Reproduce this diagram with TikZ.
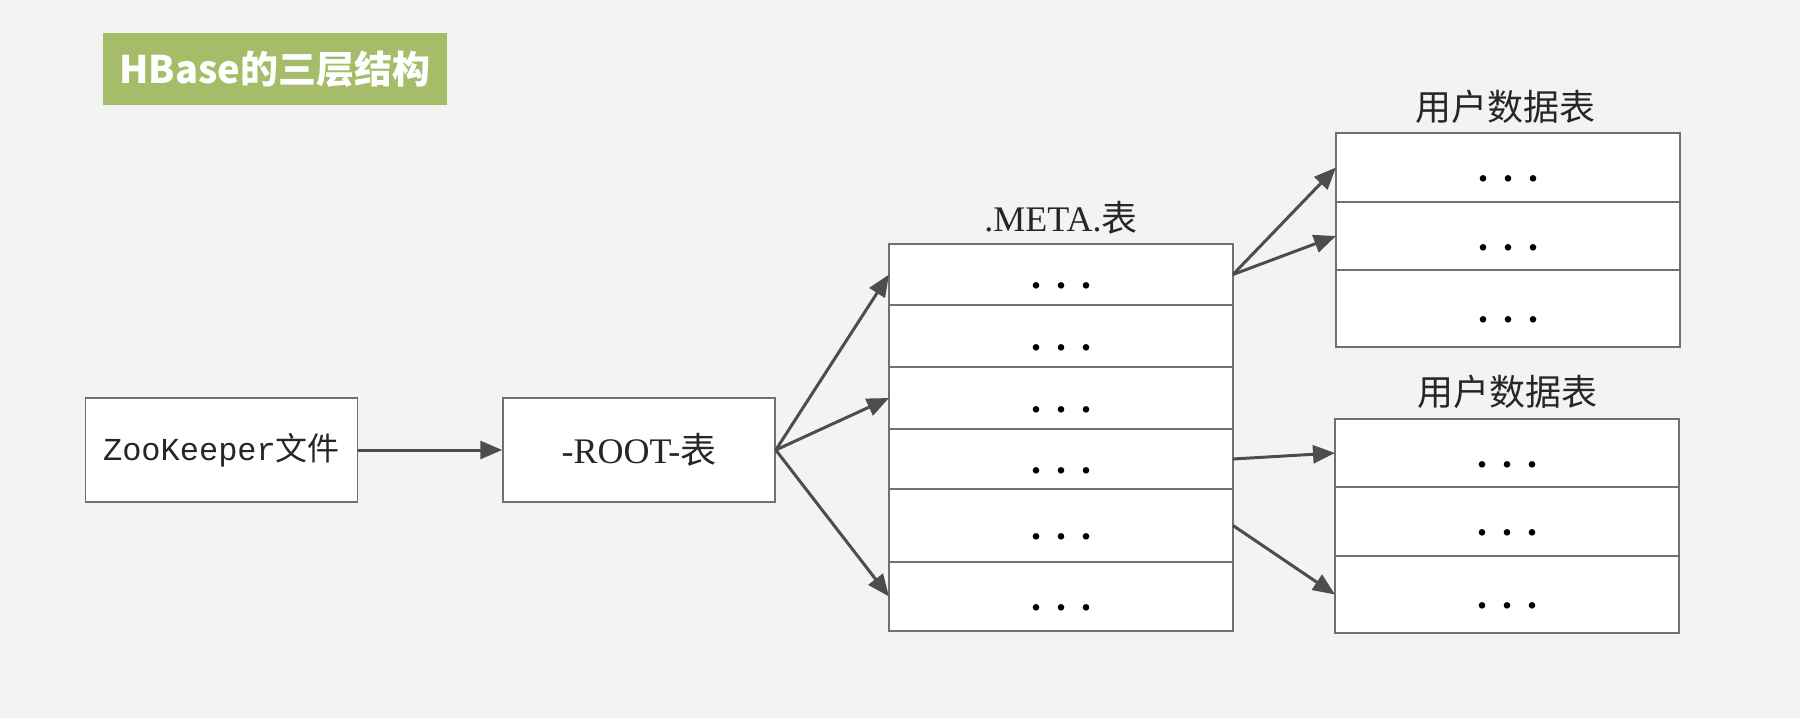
\documentclass[tikz,border=0pt]{standalone}
\usepackage{fontspec}
\setmainfont{Liberation Serif}
\newfontfamily\cjk{Noto Sans CJK SC}
\newfontfamily\zkmono{Liberation Mono}
\definecolor{bggray}{RGB}{243,243,243}
\definecolor{titlegreen}{RGB}{165,189,104}
\definecolor{edgegray}{RGB}{112,112,112}
\definecolor{arrgray}{RGB}{77,77,77}
\usetikzlibrary{arrows.meta,positioning}
\newcommand{\rowdots}{\textbf{.}\hspace{7.5pt}\textbf{.}\hspace{7.5pt}\textbf{.}}

\begin{document}
\begin{tikzpicture}[x=0.5pt, y=-0.5pt,
        titlebox/.style={rectangle, fill=titlegreen, text=white, inner sep=0pt,
                         minimum width=172pt, minimum height=36pt,
                         font=\cjk\bfseries\fontsize{19}{19}\selectfont},
        plainbox/.style={rectangle, draw=edgegray, line width=0.75pt, fill=white,
                         minimum width=136pt, minimum height=52pt, inner sep=0pt,
                         text=black!85},
        tblrow/.style={rectangle, draw=edgegray, line width=0.75pt, fill=white,
                       minimum width=172pt, inner sep=0pt, outer sep=0pt,
                       font=\fontsize{20}{20}\selectfont, text height=14pt, text depth=0pt},
        tbllabel/.style={font=\fontsize{18}{18}\selectfont, text=black!85, inner sep=0pt},
        arr/.style={-{Triangle[length=11pt, width=9pt]}, line width=1.5pt, arrgray}
      ]
        \useasboundingbox (0,0) rectangle (1800,718);
        \fill[bggray] (0,0) rectangle (1800,718);

        % title
        \node[titlebox] (title) at (275,69) {HBase的三层结构};

        % ZooKeeper and -ROOT-
        \node[plainbox, font=\fontsize{16}{16}\selectfont] (zk) at (221.5,450) {\zkmono ZooKeeper{\cjk 文件}};
        \node[plainbox, font=\fontsize{18}{18}\selectfont] (root) at (639,450) {-ROOT-{\cjk 表}};

        % .META. table
        \node[tbllabel] (metalbl) at (1061,218) {.META.{\cjk 表}};
        \node[tblrow, minimum height=30.5pt, anchor=north] (meta1) at (1061,244) {\rowdots};
        \node[tblrow, minimum height=31pt, below=0pt of meta1] (meta2) {\rowdots};
        \node[tblrow, minimum height=31pt, below=0pt of meta2] (meta3) {\rowdots};
        \node[tblrow, minimum height=30pt, below=0pt of meta3] (meta4) {\rowdots};
        \node[tblrow, minimum height=36.5pt, below=0pt of meta4] (meta5) {\rowdots};
        \node[tblrow, minimum height=34.5pt, below=0pt of meta5] (meta6) {\rowdots};

        % user tables
        \node[tbllabel, font=\cjk\fontsize{18}{18}\selectfont] (userlblA) at (1505,107) {用户数据表};
        \node[tblrow, minimum height=34.5pt, anchor=north] (userA1) at (1508,133) {\rowdots};
        \node[tblrow, minimum height=34pt, below=0pt of userA1] (userA2) {\rowdots};
        \node[tblrow, minimum height=38.5pt, below=0pt of userA2] (userA3) {\rowdots};

        \node[tbllabel, font=\cjk\fontsize{18}{18}\selectfont] (userlblB) at (1507,392) {用户数据表};
        \node[tblrow, minimum height=34pt, anchor=north] (userB1) at (1507,419) {\rowdots};
        \node[tblrow, minimum height=34.5pt, below=0pt of userB1] (userB2) {\rowdots};
        \node[tblrow, minimum height=38.5pt, below=0pt of userB2] (userB3) {\rowdots};

        % lookups
        \draw[arr] (zk.east) -- (root.west);
        \draw[arr] (root.east) -- (meta1.west);
        \draw[arr] (root.east) -- (meta3.west);
        \draw[arr] (root.east) -- (meta6.west);
        \draw[arr] (meta1.east) -- (userA1.west);
        \draw[arr] (meta1.east) -- (userA2.west);
        \draw[arr] (meta4.east) -- (userB1.west);
        \draw[arr] (meta5.east) -- (userB3.west);
      \end{tikzpicture}
\end{document}
